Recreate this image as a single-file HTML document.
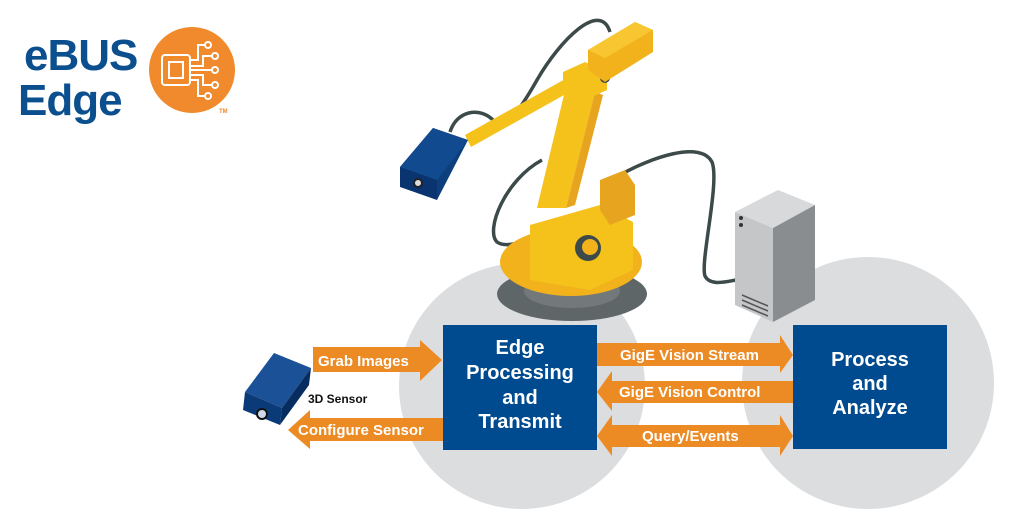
<!DOCTYPE html>
<html><head><meta charset="utf-8"><style>
html,body{margin:0;padding:0;background:#fff;}
svg{display:block;}
text{font-family:"Liberation Sans",sans-serif;font-weight:bold;}
</style></head><body>
<svg width="1024" height="513" viewBox="0 0 1024 513" xmlns="http://www.w3.org/2000/svg">
<!-- background circles -->
<circle cx="522" cy="386" r="123" fill="#dcdddf"/>
<circle cx="868" cy="383" r="126" fill="#dcdddf"/>

<!-- logo -->
<text x="24" y="70" font-size="44" fill="#0b4f8f" letter-spacing="-1">eBUS</text>
<text x="18" y="115" font-size="44" fill="#0b4f8f" letter-spacing="-1">Edge</text>
<circle cx="192" cy="70" r="43" fill="#f08a2c"/>
<g fill="none" stroke="#fff" stroke-width="2">
<rect x="162" y="55" width="28" height="30" rx="3"/>
<rect x="169" y="62" width="14" height="16"/>
<path d="M190 60 H198 V45 H205 M190 66 H203 V56 H212 M190 70 H212 M190 75 H203 V85 H212 M190 80 H198 V96 H205"/>
<circle cx="208" cy="45" r="3"/><circle cx="215" cy="56" r="3"/><circle cx="215" cy="70" r="3"/><circle cx="215" cy="85" r="3"/><circle cx="208" cy="96" r="3"/>
</g>
<text x="219" y="113" font-size="6" fill="#f08a2c">TM</text>

<!-- robot base -->
<ellipse cx="572" cy="294" rx="75" ry="27" fill="#5f6668"/>
<ellipse cx="572" cy="291" rx="48" ry="17" fill="#73797b"/>
<!-- cables -->
<g fill="none" stroke="#3d4a4a" stroke-width="3.5">
<path d="M450 132 C457 110 480 107 493 120 C505 132 520 110 537 80 C560 40 600 0 610 32"/>
<path d="M542 160 C505 180 485 230 497 242 C505 248 520 242 530 240"/>
<path d="M620 175 C650 158 700 140 712 162 C720 182 700 262 705 276 C710 286 725 282 736 280"/>
</g>
<!-- turntable -->
<ellipse cx="571" cy="262" rx="71" ry="34" fill="#f2b21c"/>
<path d="M530 225 L600 205 L633 222 L633 270 L590 290 L530 280 Z" fill="#f5c21c"/>
<path d="M600 180 L625 170 L635 185 L635 215 L610 225 L600 210Z" fill="#e7a41f"/>
<circle cx="588" cy="248" r="13" fill="#3d4a4a"/>
<circle cx="590" cy="247" r="8" fill="#f2b21c"/>
<!-- upper arm -->
<path d="M537 208 L566 208 L595 92 L568 78 Z" fill="#f5c21c"/>
<path d="M566 208 L595 92 L603 95 L575 205Z" fill="#e7a41f"/>
<!-- forearm rod -->
<path d="M465 135 L567 78 L573 90 L471 147Z" fill="#f5c21c"/>
<!-- joint box -->
<path d="M563 72 L585 62 L607 72 L607 90 L585 100 L563 90Z" fill="#f5c21c"/>
<circle cx="605" cy="78" r="5" fill="#3d4a4a"/>
<path d="M588 50 L635 22 L653 30 L653 52 L605 82 L588 70Z" fill="#f2b21c"/>
<path d="M588 50 L635 22 L653 30 L605 58Z" fill="#f7c630"/>
<!-- camera on arm -->
<path d="M400 167 L433 128 L468 140 L437 200Z" fill="#0d3f7c"/>
<path d="M400 167 L437 180 L437 200 L400 187Z" fill="#0a3470"/>
<path d="M433 128 L468 140 L437 180 L400 167Z" fill="#114a8e"/>
<circle cx="418" cy="183" r="4" fill="#ddd" stroke="#222" stroke-width="2"/>

<!-- server -->
<path d="M735 212 L778 190 L815 205 L773 228Z" fill="#d8d9db"/>
<path d="M735 212 L773 228 L773 322 L735 305Z" fill="#c4c6c8"/>
<path d="M773 228 L815 205 L815 300 L773 322Z" fill="#8a8d90"/>
<g stroke="#555" stroke-width="1.5"><line x1="742" y1="295" x2="768" y2="306"/><line x1="742" y1="300" x2="768" y2="311"/><line x1="742" y1="305" x2="768" y2="316"/></g>
<circle cx="741" cy="218" r="2" fill="#333"/><circle cx="741" cy="225" r="2" fill="#333"/>

<!-- 3D sensor -->
<path d="M245 392 L274 353 L311 368 L282 408Z" fill="#1a5197"/>
<path d="M245 392 L282 408 L280 425 L243 410Z" fill="#0b3a78"/>
<path d="M282 408 L311 368 L309 385 L280 425Z" fill="#072c60"/>
<circle cx="262" cy="414" r="5" fill="#cfd8e8" stroke="#111" stroke-width="2"/>
<text x="308" y="403" font-size="12" fill="#111">3D Sensor</text>

<!-- boxes -->
<rect x="443" y="325" width="154" height="125" fill="#004b8f"/>
<rect x="793" y="325" width="154" height="124" fill="#004b8f"/>
<g fill="#fff" font-size="20" text-anchor="middle">
<text x="520" y="354">Edge</text><text x="520" y="379">Processing</text><text x="520" y="404">and</text><text x="520" y="428">Transmit</text>
<text x="870" y="366">Process</text><text x="870" y="390">and</text><text x="870" y="414">Analyze</text>
</g>

<!-- arrows -->
<g fill="#ec8a24">
<path d="M313 347 H420 V340 L442 360 L420 381 V372 H313Z"/>
<path d="M443 418 H310 V410 L288 430 L310 449 V441 H443Z"/>
<path d="M597 343 H780 V335 L793 355 L780 373 V366 H597Z"/>
<path d="M793 381 H612 V371 L597 392 L612 411 V403 H793Z"/>
<path d="M597 436 L612 415 V425 H780 V415 L793 436 L780 456 V447 H612 V456Z"/>
</g>
<g fill="#fff" font-size="15">
<text x="318" y="366">Grab Images</text>
<text x="298" y="435">Configure Sensor</text>
<text x="620" y="360">GigE Vision Stream</text>
<text x="619" y="397">GigE Vision Control</text>
<text x="642" y="441">Query/Events</text>
</g>
</svg>
</body></html>
